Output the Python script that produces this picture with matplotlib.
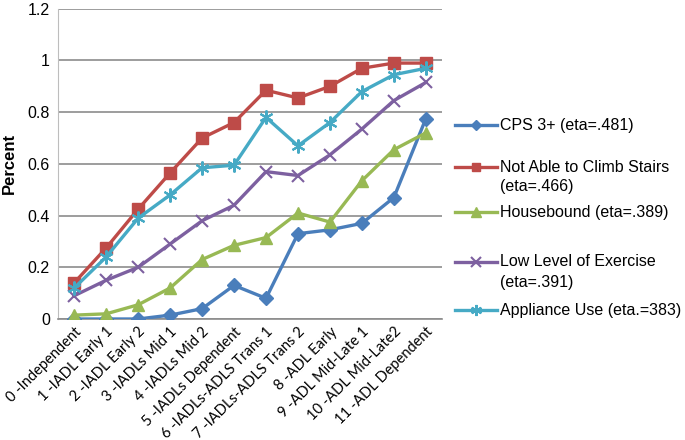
import matplotlib
matplotlib.use("Agg")
import matplotlib.pyplot as plt
from matplotlib.lines import Line2D

categories = ["0 -Independent", "1 -IADL Early 1", "2 -IADL Early 2", "3 -IADLs Mid 1",
              "4 -IADLs Mid 2", "5 -IADLs Dependent", "6 -IADLs-ADLS Trans 1",
              "7 -IADLs-ADLS Trans 2", "8 -ADL Early", "9 -ADL Mid-Late 1",
              "10 -ADL Mid-Late2", "11 -ADL Dependent"]

cps = [0.0, 0.0, 0.0, 0.015, 0.04, 0.13, 0.08, 0.33, 0.345, 0.37, 0.47, 0.775]
stairs = [0.14, 0.275, 0.425, 0.565, 0.70, 0.76, 0.885, 0.855, 0.90, 0.97, 0.99, 0.99]
housebound = [0.015, 0.02, 0.055, 0.12, 0.23, 0.285, 0.315, 0.41, 0.375, 0.535, 0.655, 0.72]
exercise = [0.09, 0.15, 0.20, 0.29, 0.38, 0.44, 0.57, 0.555, 0.635, 0.735, 0.845, 0.915]
appliance = [0.12, 0.24, 0.39, 0.48, 0.585, 0.595, 0.78, 0.67, 0.76, 0.88, 0.945, 0.97]

labels = ["CPS 3+ (eta=.481)", "Not Able to Climb Stairs\n(eta=.466)",
          "Housebound (eta=.389)", "Low Level of Exercise\n(eta=.391)",
          "Appliance Use (eta.=383)"]

series = [cps, stairs, housebound, exercise, appliance]
colors = ["#4A7EBB", "#BE4B48", "#98B954", "#7D60A0", "#46AAC5"]
markers = ["D", "s", "^", "x", (6, 2, 0)]
msizes = [7, 8, 9, 9, 10]

plt.rcParams["font.family"] = ["Liberation Sans", "DejaVu Sans"]

fig = plt.figure(figsize=(6.85, 4.40), dpi=100)
ax = fig.add_axes([0.085, 0.275, 0.56, 0.705])

x = list(range(len(categories)))
lines = []
for vals, c, mk, ms in zip(series, colors, markers, msizes):
    ln, = ax.plot(x, vals, color=c, lw=2.4, marker=mk, markersize=ms,
                  markeredgewidth=1.5 if mk in ("x",) or isinstance(mk, tuple) else 1,
                  markeredgecolor=c, markerfacecolor=c, zorder=3)
    lines.append(ln)

ax.set_xlim(-0.5, len(categories) - 0.5)
ax.set_ylim(0, 1.2)
ax.set_yticks([0, 0.2, 0.4, 0.6, 0.8, 1, 1.2])
ax.set_yticklabels(["0", "0.2", "0.4", "0.6", "0.8", "1", "1.2"], fontsize=11.5)
ax.set_xticks(x)
ax.set_xticklabels(categories, rotation=45, ha="right", rotation_mode="anchor",
                   fontsize=10.5, family=["Lato", "DejaVu Sans"])
ax.tick_params(axis="both", length=0, pad=6)
ax.tick_params(axis="x", pad=4)
ax.yaxis.grid(True, color="#8c8c8c", lw=1.2)
ax.set_axisbelow(True)
for s in ["top", "right"]:
    ax.spines[s].set_visible(False)
ax.spines["left"].set_color("#bdbdbd")
ax.spines["bottom"].set_color("#8c8c8c")
ax.spines["bottom"].set_linewidth(1.2)
ax.set_ylabel("Percent", fontsize=12, fontweight="bold", labelpad=8)

# legend drawn by hand to match the uneven spacing of the original
leg_y = [125, 167, 212, 262, 310]
for ln, lab, yy in zip(lines, labels, leg_y):
    fy = 1 - yy / 440
    h = Line2D([455 / 685, 497 / 685], [fy, fy], transform=fig.transFigure,
               color=ln.get_color(), lw=2.4)
    fig.add_artist(h)
    m = Line2D([476 / 685], [fy], transform=fig.transFigure, color=ln.get_color(),
               marker=ln.get_marker(), markersize=ln.get_markersize() * 0.8,
               markeredgewidth=ln.get_markeredgewidth(), linestyle="none")
    fig.add_artist(m)
    parts = lab.split("\n")
    for i, p in enumerate(parts):
        fig.text(500 / 685, fy - i * 20 / 440, p, fontsize=11.5, va="center", ha="left")

fig.savefig("out.png", dpi=100)
